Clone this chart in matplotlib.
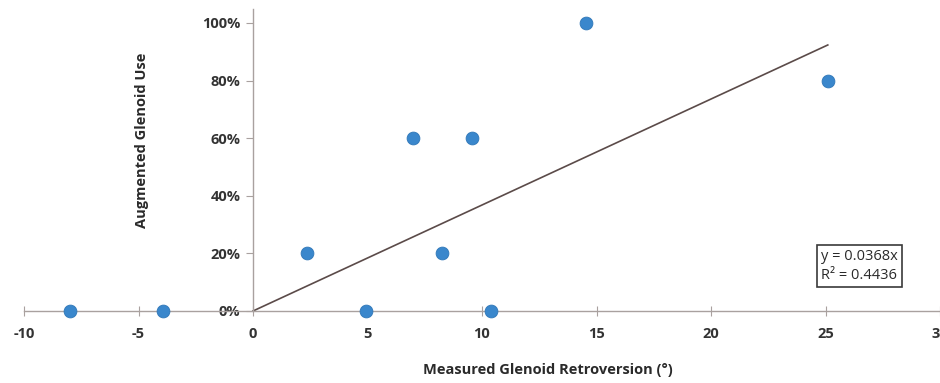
import matplotlib
matplotlib.use("Agg")
import matplotlib.pyplot as plt
import numpy as np
from matplotlib.ticker import FuncFormatter

retroversion = [-8.0, -3.95, 4.95, 10.4, 2.35, 7.0, 9.55, 8.25, 14.55, 25.1]
augmented_use = [0.0, 0.0, 0.0, 0.0, 0.2, 0.6, 0.6, 0.2, 1.0, 0.8]
slope = 0.0368
r2 = 0.4436
x_ticks = [-10, -5, 0, 5, 10, 15, 20, 25, 30]
y_ticks = [0, 0.2, 0.4, 0.6, 0.8, 1.0]

plt.rcParams['font.family'] = ['Open Sans', 'DejaVu Sans']
plt.rcParams['axes.unicode_minus'] = False

fig = plt.figure(figsize=(9.4, 3.83), dpi=100)
ax = fig.add_axes([24/940, 1 - 311/383, 916/940, (311 - 8.6)/383])
ax.set_xlim(-10, 30)
ax.set_ylim(0, 1.05)

axis_col = '#a9a19f'
for s in ['top', 'right']:
    ax.spines[s].set_visible(False)
ax.spines['left'].set_position(('data', 0))
ax.spines['left'].set_color(axis_col)
ax.spines['bottom'].set_color(axis_col)
ax.spines['left'].set_linewidth(1.0)
ax.spines['bottom'].set_linewidth(1.0)

ax.set_xticks(x_ticks)
ax.set_yticks(y_ticks)
ax.yaxis.set_major_formatter(FuncFormatter(lambda v, p: f"{v*100:.0f}%"))
ax.xaxis.set_major_formatter(FuncFormatter(lambda v, p: f"{v:.0f}"))
ax.tick_params(axis='x', direction='inout', length=7, color=axis_col,
               labelsize=10.5, labelcolor='#333333', pad=8)
ax.tick_params(axis='y', direction='out', length=5, color=axis_col,
               labelsize=10.5, labelcolor='#333333', pad=4)
for lbl in ax.get_xticklabels() + ax.get_yticklabels():
    lbl.set_fontweight('bold')

xmax = max(retroversion)
xs = np.array([0, xmax])
ax.plot(xs, slope * xs, color='#5b4b49', linewidth=1.2, zorder=2)

ax.scatter(retroversion, augmented_use, s=85, color='#3a87cc',
           edgecolors='#2f77b8', linewidths=0.6, zorder=5, clip_on=False)

fig.text(548/940, 1 - 370/383, 'Measured Glenoid Retroversion (°)',
         ha='center', va='center', fontsize=10.5, fontweight='bold', color='#2a2a2a')
fig.text(142/940, 1 - 140/383, 'Augmented Glenoid Use', rotation=90,
         ha='center', va='center', fontsize=10.5, fontweight='bold', color='#2a2a2a')

fig.text(821/940, 1 - 266/383, f"y = {slope}x\nR² = {r2}", ha='left', va='center',
         fontsize=10.5, color='#2a2a2a', linespacing=1.35,
         bbox=dict(boxstyle='square,pad=0.3', facecolor='white', edgecolor='#3a3a3a', linewidth=1.2))

fig.savefig('out.png', dpi=100)
